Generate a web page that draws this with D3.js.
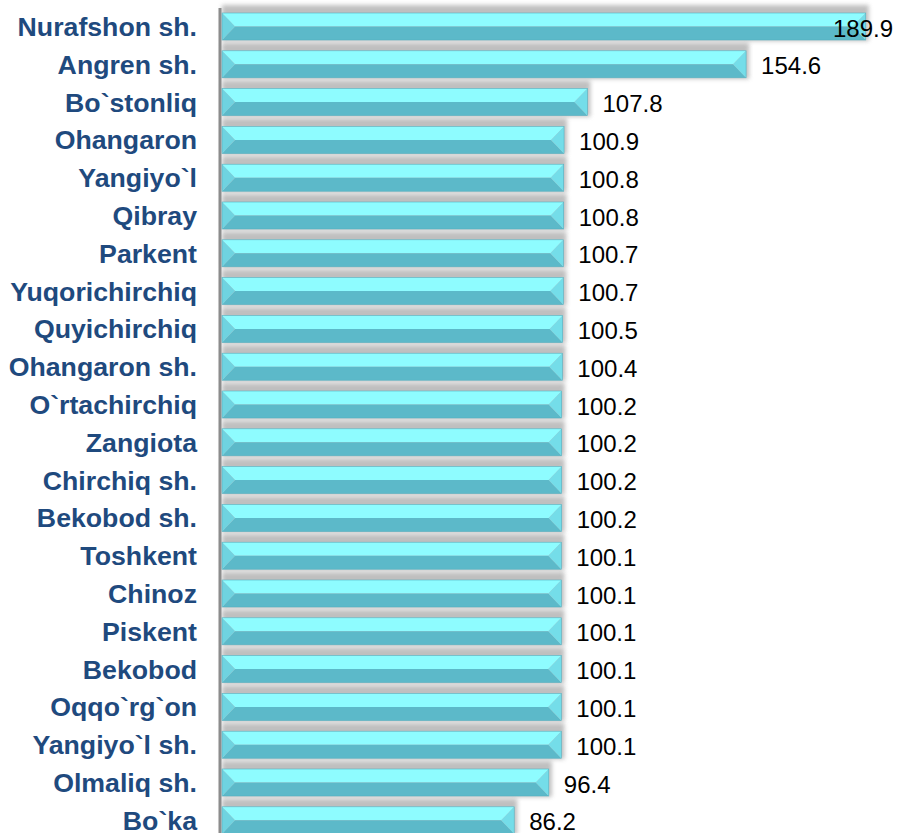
<!DOCTYPE html>
<html>
<head>
<meta charset="utf-8">
<script src="https://cdn.jsdelivr.net/npm/d3@7"></script>
<style>
  body { margin: 0; background: #fff; }
  svg { display: block; }
</style>
</head>
<body>
<svg id="chart" width="897" height="833"></svg>
<script>
const categories = ["Nurafshon sh.", "Angren sh.", "Bo`stonliq", "Ohangaron", "Yangiyo`l", "Qibray", "Parkent", "Yuqorichirchiq", "Quyichirchiq", "Ohangaron sh.", "O`rtachirchiq", "Zangiota", "Chirchiq sh.", "Bekobod sh.", "Toshkent", "Chinoz", "Piskent", "Bekobod", "Oqqo`rg`on", "Yangiyo`l sh.", "Olmaliq sh.", "Bo`ka"];
const values = [189.9, 154.6, 107.8, 100.9, 100.8, 100.8, 100.7, 100.7, 100.5, 100.4, 100.2, 100.2, 100.2, 100.2, 100.1, 100.1, 100.1, 100.1, 100.1, 100.1, 96.4, 86.2];
const valueLabels = ["189.9", "154.6", "107.8", "100.9", "100.8", "100.8", "100.7", "100.7", "100.5", "100.4", "100.2", "100.2", "100.2", "100.2", "100.1", "100.1", "100.1", "100.1", "100.1", "100.1", "96.4", "86.2"];

const W = 897, H = 833;
const svg = d3.select("#chart");

const x = d3.scaleLinear().domain([0, 200]).range([222, 222 + 678]);
const y = d3.scaleBand().domain(categories).range([7.6, 839.2]).paddingInner(0.286).paddingOuter(0.143);

const defs = svg.append("defs");
defs.append("filter").attr("id", "blur").attr("x", "-10%").attr("y", "-50%").attr("width", "120%").attr("height", "200%")
  .append("feGaussianBlur").attr("stdDeviation", 2);

const data = categories.map((c, i) => ({ c, v: values[i], lab: valueLabels[i] }));

// shadows
svg.append("g").selectAll("rect").data(data).join("rect")
  .attr("x", x(0))
  .attr("y", d => y(d.c) - 8)
  .attr("width", d => x(d.v) - x(0) + 3)
  .attr("height", y.bandwidth() + 9)
  .attr("fill", "#a4a4a4")
  .attr("opacity", 0.7)
  .attr("filter", "url(#blur)");

// axis line
svg.append("line").attr("x1", 220).attr("x2", 220).attr("y1", 8).attr("y2", H)
  .attr("stroke", "#8c8c8c").attr("stroke-width", 3);

// bars with bevel faces
const bars = svg.append("g").selectAll("g").data(data).join("g");
bars.each(function(d) {
  const g = d3.select(this);
  const x0 = x(0), x1 = x(d.v);
  const y0 = y(d.c), h = y.bandwidth(), y1 = y0 + h, ym = y0 + h / 2;
  const b = Math.min(h / 2, 13);
  const poly = pts => pts.map(p => p.join(",")).join(" ");
  g.append("polygon").attr("points", poly([[x0, y0], [x1, y0], [x1 - b, ym], [x0 + b, ym]])).attr("fill", "#8efcff");
  g.append("polygon").attr("points", poly([[x0 + b, ym], [x1 - b, ym], [x1, y1], [x0, y1]])).attr("fill", "#5cb9c9");
  g.append("polygon").attr("points", poly([[x0, y0], [x0 + b, ym], [x0, y1]])).attr("fill", "#6fd3e0");
  g.append("polygon").attr("points", poly([[x1, y0], [x1 - b, ym], [x1, y1]])).attr("fill", "#74dde9");
  g.append("rect").attr("x", x0).attr("y", y0).attr("width", x1 - x0).attr("height", h)
    .attr("fill", "none").attr("stroke", "#56b0c0").attr("stroke-width", 0.6);
});

// category labels
svg.append("g").selectAll("text").data(data).join("text")
  .attr("x", 197)
  .attr("y", d => y(d.c) + y.bandwidth() / 2 + 0.5)
  .attr("text-anchor", "end")
  .attr("dominant-baseline", "central")
  .attr("font-family", "Liberation Sans, Arial, sans-serif")
  .attr("font-weight", "bold")
  .attr("font-size", 26.7)
  .attr("fill", "#1f4a7e")
  .text(d => d.c);

// value labels
svg.append("g").selectAll("text").data(data).join("text")
  .attr("y", d => y(d.c) + y.bandwidth() / 2 + 1.5)
  .attr("dominant-baseline", "central")
  .attr("font-family", "Liberation Sans, Arial, sans-serif")
  .attr("font-size", 24)
  .attr("fill", "#000")
  .text(d => d.lab)
  .each(function(d) {
    const t = d3.select(this);
    const w = this.getComputedTextLength();
    let tx = x(d.v) + 15;
    if (tx + w > W - 4) tx = W - 4 - w;
    t.attr("x", tx);
  });
</script>
</body>
</html>
